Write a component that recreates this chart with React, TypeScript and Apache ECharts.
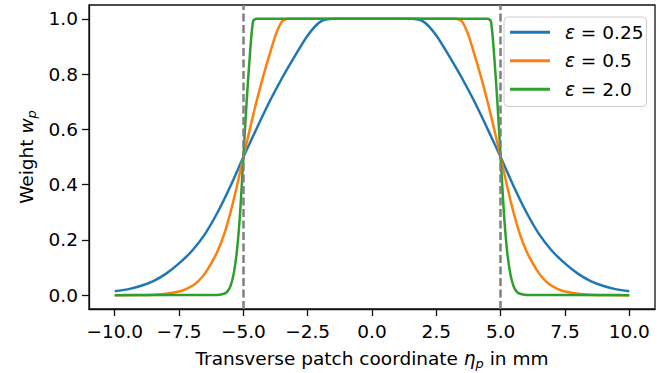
import React, { useEffect, useRef } from 'react';
import * as echarts from 'echarts';

const xTicks = [-10, -7.5, -5, -2.5, 0, 2.5, 5, 7.5, 10];
const yTicks = [0, 0.2, 0.4, 0.6, 0.8, 1.0];
const boundaries = [-5, 5];
const seriesNames = ['ε = 0.25', 'ε = 0.5', 'ε = 2.0'];
const seriesColors = ['#1f77b4', '#ff7f0e', '#2ca02c'];

// eps = 0.25
const blueX = [
  -10, -9.5, -9, -8.5, -8, -7.5, -7, -6.5, -6, -5.5, -5, -4.5, -4, -3.5, -3, -2.5, -2, -1.5, -1, -0.5,
  0, 0.5, 1, 1.5, 2, 2.5, 3, 3.5, 4, 4.5, 5, 5.5, 6, 6.5, 7, 7.5, 8, 8.5, 9, 9.5, 10,
];
const blueY = [
  0.014, 0.021, 0.033, 0.051, 0.078, 0.115, 0.16, 0.22, 0.3, 0.395, 0.5, 0.6, 0.697, 0.785, 0.865, 0.94, 0.99, 1, 1, 1,
  1, 1, 1, 1, 0.99, 0.94, 0.865, 0.785, 0.697, 0.6, 0.5, 0.395, 0.3, 0.22, 0.16, 0.115, 0.078, 0.051, 0.033, 0.021, 0.014,
];

// eps = 0.5
const orangeX = [
  -10, -9, -8.5, -8, -7.5, -7.25, -7, -6.75, -6.5, -6.25, -6, -5.75, -5.5, -5.25, -5, -4.75, -4.5, -4.25, -4, -3.75, -3.5, -3.25, -3,
  0, 3, 3.25, 3.5, 3.75, 4, 4.25, 4.5, 4.75, 5, 5.25, 5.5, 5.75, 6, 6.25, 6.5, 6.75, 7, 7.25, 7.5, 8, 8.5, 9, 10,
];
const orangeY = [
  0, 0.001, 0.002, 0.005, 0.013, 0.021, 0.033, 0.051, 0.078, 0.115, 0.16, 0.22, 0.3, 0.395, 0.5, 0.6, 0.697, 0.785, 0.865, 0.94, 0.99, 1, 1,
  1, 1, 1, 0.99, 0.94, 0.865, 0.785, 0.697, 0.6, 0.5, 0.395, 0.3, 0.22, 0.16, 0.115, 0.078, 0.051, 0.033, 0.021, 0.013, 0.005, 0.002, 0.001, 0,
];

// eps = 2.0
const greenX = [
  -10, -6, -5.75, -5.625, -5.5, -5.375, -5.25, -5.125, -5, -4.875, -4.75, -4.625, -4.5,
  0, 4.5, 4.625, 4.75, 4.875, 5, 5.125, 5.25, 5.375, 5.5, 5.625, 5.75, 6, 10,
];
const greenY = [
  0, 0.001, 0.005, 0.013, 0.033, 0.078, 0.16, 0.3, 0.5, 0.697, 0.865, 0.99, 1,
  1, 1, 0.99, 0.865, 0.697, 0.5, 0.3, 0.16, 0.078, 0.033, 0.013, 0.005, 0.001, 0,
];

const FONT = 'DejaVu Sans';
const FS = 18.5;

export default function App() {
  const ref = useRef<HTMLDivElement>(null);
  useEffect(() => {
    const chart = echarts.init(ref.current!, null, { renderer: 'svg' });
    const fmt = (v: number) => v.toFixed(1).replace('-', '\u2212');
    const pairs = (xs: number[], ys: number[]) => xs.map((x, i) => [x, ys[i]]);
    const xsList = [blueX, orangeX, greenX];
    const ysList = [blueY, orangeY, greenY];
    const richName = {
      it: { fontSize: FS, fontStyle: 'italic', fontFamily: FONT, color: '#000' },
      sub: { fontSize: 13, fontStyle: 'italic', fontFamily: FONT, color: '#000', verticalAlign: 'bottom', lineHeight: 23 },
    };
    const lineSeries = seriesNames.map((name, i) => ({
      type: 'line',
      name,
      data: pairs(xsList[i], ysList[i]),
      showSymbol: false,
      smooth: 0.25,
      lineStyle: { width: 2.5, color: seriesColors[i] },
      itemStyle: { color: seriesColors[i] },
      z: 2 + i,
    }));
    chart.setOption({
      animation: false,
      textStyle: { fontFamily: FONT },
      grid: {
        left: 89,
        top: 5,
        right: 11,
        bottom: 64,
        outerBoundsMode: 'none',
        containLabel: false,
        show: true,
        borderColor: '#111',
        borderWidth: 1.3,
        backgroundColor: 'transparent',
      },
      xAxis: {
        type: 'value',
        min: -11,
        max: 11,
        axisLine: { show: true, onZero: false, lineStyle: { color: '#111', width: 1.3 } },
        axisTick: { show: true, length: 7, customValues: xTicks, lineStyle: { color: '#111', width: 1.3 } },
        axisLabel: { customValues: xTicks, formatter: fmt, margin: 13, fontSize: FS, color: '#000', fontFamily: FONT },
        splitLine: { show: false },
        name: 'Transverse patch coordinate {it|η}{sub|p} in mm',
        nameLocation: 'middle',
        nameGap: 38,
        nameTextStyle: { fontSize: FS, color: '#000', fontFamily: FONT, rich: richName },
      },
      yAxis: {
        type: 'value',
        min: -0.05,
        max: 1.05,
        axisLine: { show: true, onZero: false, lineStyle: { color: '#111', width: 1.3 } },
        axisTick: { show: true, length: 7, customValues: yTicks, lineStyle: { color: '#111', width: 1.3 } },
        axisLabel: { customValues: yTicks, formatter: fmt, margin: 11, fontSize: FS, color: '#000', fontFamily: FONT },
        splitLine: { show: false },
        name: 'Weight {it|w}{sub|p}',
        nameLocation: 'middle',
        nameGap: 49,
        nameTextStyle: { fontSize: FS, color: '#000', fontFamily: FONT, rich: richName },
      },
      legend: {
        data: seriesNames,
        orient: 'vertical',
        left: 504,
        top: 17,
        itemWidth: 40,
        itemHeight: 3,
        icon: 'rect',
        itemGap: 8,
        padding: [5, 3, 7, 6],
        backgroundColor: 'rgba(255,255,255,0.8)',
        borderColor: '#cccccc',
        borderWidth: 1,
        borderRadius: 4,
        formatter: (name: string) => name.replace('ε', '{it|ε}'),
        textStyle: {
          fontSize: FS,
          lineHeight: 20.5,
          color: '#000',
          fontFamily: FONT,
          padding: [0, 0, 0, 10],
          rich: {
            it: { fontSize: FS, fontStyle: 'italic', fontFamily: FONT, color: '#000' },
          },
        },
      },
      series: [
        ...lineSeries,
        {
          type: 'line',
          name: 'boundaries',
          data: [],
          z: 10,
          markLine: {
            silent: true,
            symbol: ['none', 'none'],
            label: { show: false },
            lineStyle: { color: '#808080', type: [8, 3.5], width: 2.5 },
            data: boundaries.map((v) => ({ xAxis: v })),
          },
        },
      ],
    });
    return () => chart.dispose();
  }, []);
  return <div ref={ref} style={{ width: 666, height: 373, position: 'absolute', left: 0, top: 0 }} />;
}
